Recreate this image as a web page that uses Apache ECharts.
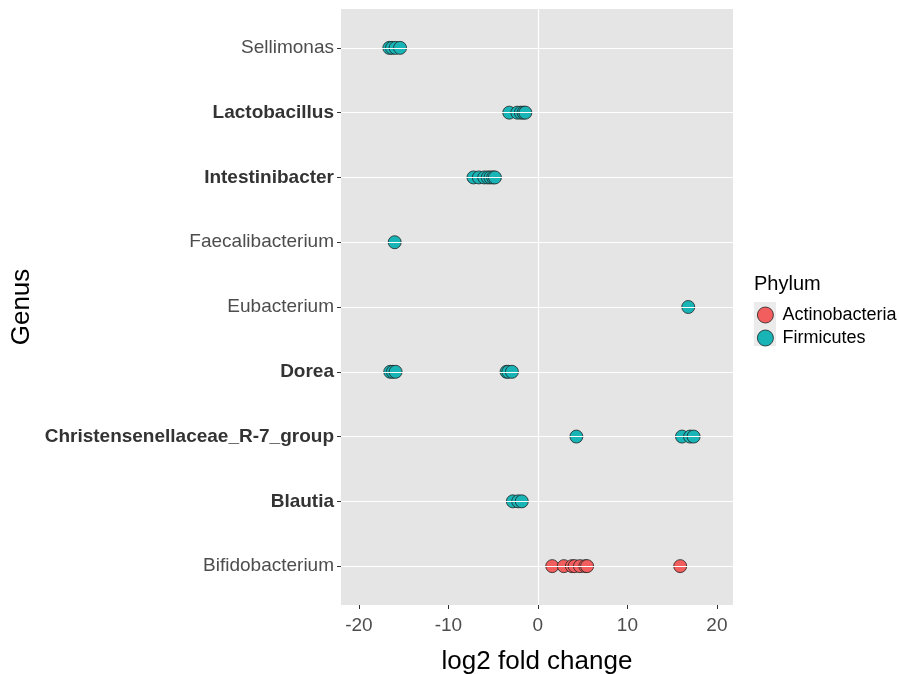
<!DOCTYPE html>
<html>
<head>
<meta charset="utf-8">
<script src="https://cdn.jsdelivr.net/npm/echarts@6/dist/echarts.min.js"></script>
<style>html,body{margin:0;padding:0;background:#fff}#c{width:899px;height:674px}</style>
</head>
<body>
<div id="c"></div>
<script>
// Categories (bottom to top)
const genera = ["Bifidobacterium","Blautia","Christensenellaceae_R-7_group","Dorea","Eubacterium","Faecalibacterium","Intestinibacter","Lactobacillus","Sellimonas"];
const boldGenera = ["Blautia","Christensenellaceae_R-7_group","Dorea","Intestinibacter","Lactobacillus"];
const xTicks = [-20,-10,0,10,20];

// Firmicutes points
const firmicutesGenus = [
  "Sellimonas","Sellimonas","Sellimonas","Sellimonas",
  "Lactobacillus","Lactobacillus","Lactobacillus","Lactobacillus","Lactobacillus",
  "Intestinibacter","Intestinibacter","Intestinibacter","Intestinibacter","Intestinibacter","Intestinibacter","Intestinibacter",
  "Faecalibacterium",
  "Eubacterium",
  "Dorea","Dorea","Dorea","Dorea","Dorea","Dorea",
  "Christensenellaceae_R-7_group","Christensenellaceae_R-7_group","Christensenellaceae_R-7_group","Christensenellaceae_R-7_group",
  "Blautia","Blautia","Blautia"
];
const firmicutesLFC = [
  -16.6,-16.3,-15.9,-15.4,
  -3.2,-2.3,-1.9,-1.6,-1.4,
  -7.2,-6.6,-6.0,-5.6,-5.3,-5.0,-4.8,
  -16.0,
  16.8,
  -16.5,-16.2,-15.9,-3.5,-3.3,-2.9,
  4.3,16.1,17.0,17.4,
  -2.8,-2.2,-1.8
];
// Actinobacteria points
const actinoGenus = ["Bifidobacterium","Bifidobacterium","Bifidobacterium","Bifidobacterium","Bifidobacterium","Bifidobacterium","Bifidobacterium","Bifidobacterium"];
const actinoLFC = [1.6,2.9,3.8,4.1,4.7,5.3,5.5,15.9];

const toData = (g, v) => v.map((x, i) => [x, genera.indexOf(g[i])]);

const chart = echarts.init(document.getElementById('c'), null, {renderer: 'canvas'});
const font = '"Liberation Sans", Arial, sans-serif';
chart.setOption({
  animation: false,
  textStyle: {fontFamily: font},
  grid: {left: 341, right: 166, top: 9, bottom: 69, show: true, backgroundColor: '#E5E5E5', borderWidth: 0,
         containLabel: false, outerBoundsMode: 'none'},
  xAxis: {
    type: 'value', min: -22, max: 21.8,
    name: 'log2 fold change', nameLocation: 'middle', nameGap: 44,
    nameTextStyle: {fontSize: 26, color: '#000', fontFamily: font},
    axisLine: {show: false, onZero: false},
    axisTick: {show: true, length: 4, lineStyle: {color: '#333'}, customValues: xTicks},
    axisLabel: {color: '#4D4D4D', fontSize: 19, margin: 11, customValues: xTicks, fontFamily: font},
    splitLine: {show: false}
  },
  yAxis: {
    type: 'value', min: -0.6, max: 8.6,
    name: 'Genus', nameLocation: 'middle', nameGap: 306, nameRotate: 90,
    nameTextStyle: {fontSize: 26, color: '#000', fontFamily: font},
    axisLine: {show: false, onZero: false},
    axisTick: {show: true, length: 4, lineStyle: {color: '#333'}, customValues: genera.map((g, i) => i)},
    axisLabel: {
      customValues: genera.map((g, i) => i), margin: 7,
      formatter: v => {
        const g = genera[Math.round(v)];
        return boldGenera.includes(g) ? '{b|' + g + '}' : '{n|' + g + '}';
      },
      rich: {
        b: {fontSize: 19, fontWeight: 'bold', color: '#333333', fontFamily: font},
        n: {fontSize: 19, color: '#4D4D4D', fontFamily: font}
      }
    },
    splitLine: {show: false}
  },
  legend: {
    data: ['Actinobacteria', 'Firmicutes'],
    orient: 'vertical', left: 757, top: 306, itemGap: 5, padding: 0,
    itemWidth: 16, itemHeight: 16, icon: 'circle',
    itemStyle: {borderWidth: 0.8, borderColor: '#222'},
    textStyle: {fontSize: 18, color: '#000', fontFamily: font, padding: [0, 0, 0, 4]}
  },
  graphic: [
    {type: 'rect', shape: {x: 754, y: 302, width: 22, height: 44}, style: {fill: '#EBEBEB'}, z: -1},
    {type: 'text', left: 754, top: 274, style: {text: 'Phylum', fontSize: 20, fill: '#000', fontFamily: font}}
  ],
  series: [
    {
      type: 'scatter', name: '_grid', data: [], silent: true, z: 1,
      markLine: {
        silent: true, symbol: 'none', label: {show: false},
        lineStyle: {color: '#FFFFFF', width: 1.2, type: 'solid'},
        data: genera.map((g, i) => ({yAxis: i})).concat([{xAxis: 0}])
      }
    },
    {
      type: 'scatter', name: 'Actinobacteria', z: 3,
      data: toData(actinoGenus, actinoLFC),
      symbolSize: 13,
      itemStyle: {color: '#F25D5D', borderColor: '#222', borderWidth: 0.8, opacity: 1}
    },
    {
      type: 'scatter', name: 'Firmicutes', z: 3,
      data: toData(firmicutesGenus, firmicutesLFC),
      symbolSize: 13,
      itemStyle: {color: '#18B4B6', borderColor: '#222', borderWidth: 0.8, opacity: 1}
    }
  ]
});
</script>
</body>
</html>
